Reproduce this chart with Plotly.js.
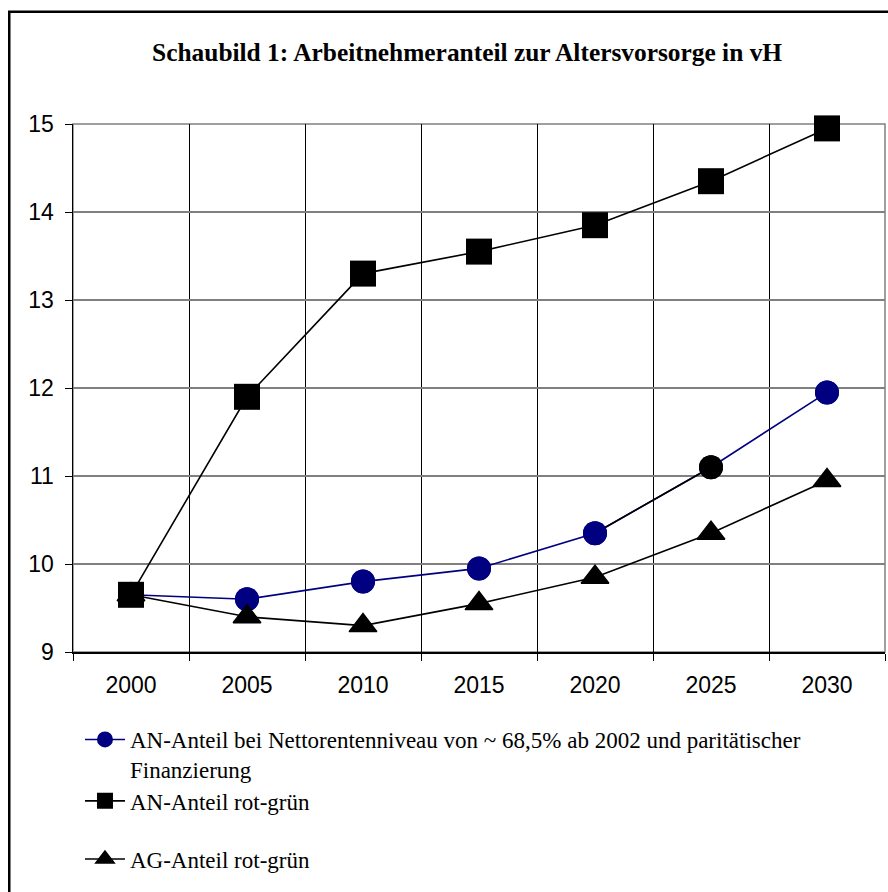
<!DOCTYPE html>
<html>
<head>
<meta charset="utf-8">
<script src="https://cdn.plot.ly/plotly-3.0.1.min.js"></script>
<style>html,body{margin:0;padding:0;background:#fff;}#chart{width:888px;height:892px;}</style>
</head>
<body>
<div id="chart"></div>
<script>
const years = ['2000', '2005', '2010', '2015', '2020', '2025', '2030'];
const anParitaet = [9.65, 9.6, 9.8, 9.95, 10.35, 11.1, 11.95];
const anRotGruen = [9.65, 11.9, 13.3, 13.55, 13.85, 14.35, 14.95];
const agRotGruen = [9.65, 9.4, 9.3, 9.55, 9.85, 10.35, 10.95];
const yTicks = [9, 10, 11, 12, 13, 14, 15];
const names = [
  'AN-Anteil bei Nettorentenniveau von ~ 68,5% ab 2002 und paritätischer<br>Finanzierung',
  'AN-Anteil rot-grün',
  'AG-Anteil rot-grün'
];
const title = 'Schaubild 1: Arbeitnehmeranteil zur Altersvorsorge in vH';

const NAVY = '#000080';
const circleColors = anParitaet.map((v, i) => (i === 5 ? '#000000' : NAVY));

const traces = [
  {x: years, y: anParitaet, mode: 'lines+markers', name: names[0], legend: 'legend',
   line: {color: NAVY, width: 1.6}, marker: {symbol: 'circle', size: 24, color: circleColors},
   hoverinfo: 'skip', cliponaxis: false},
  {x: years.slice(4, 6), y: anParitaet.slice(4, 6), mode: 'lines', showlegend: false,
   line: {color: '#000', width: 1.6}, hoverinfo: 'skip', cliponaxis: false},
  {x: years, y: anParitaet, mode: 'markers', showlegend: false,
   marker: {symbol: 'circle', size: 24, color: circleColors}, hoverinfo: 'skip', cliponaxis: false},
  {x: years, y: agRotGruen, mode: 'lines+markers', name: names[2], legend: 'legend3',
   line: {color: '#000', width: 1.6}, marker: {symbol: 'triangle-up', size: 24, color: '#000', line: {color: '#000', width: 1.5}},
   hoverinfo: 'skip', cliponaxis: false},
  {x: years, y: anRotGruen, mode: 'lines+markers', name: names[1], legend: 'legend2',
   line: {color: '#000', width: 1.6}, marker: {symbol: 'square', size: 26, color: '#000'},
   hoverinfo: 'skip', cliponaxis: false}
];

const legFont = {family: '"Liberation Serif", "Times New Roman", serif', size: 23, color: '#000'};
const legBase = {font: legFont, bgcolor: 'rgba(0,0,0,0)', borderwidth: 0, xanchor: 'left', yanchor: 'middle',
                 itemwidth: 40, valign: 'top', tracegroupgap: 0};

const layout = {
  width: 888, height: 892,
  margin: {l: 73, r: 3, t: 124, b: 240},
  paper_bgcolor: '#fff', plot_bgcolor: '#fff',
  title: {text: '<b>' + title + '</b>', x: 0.526, xanchor: 'center', y: 0.942, yanchor: 'middle',
          font: {family: '"Liberation Serif", "Times New Roman", serif', size: 25.4, color: '#000'}},
  xaxis: {type: 'category', categoryorder: 'array', categoryarray: years, range: [-0.5, 6.5],
          tickson: 'boundaries', ticks: 'outside', ticklen: 7, tickcolor: '#000', tickwidth: 1,
          showgrid: true, gridcolor: '#000', gridwidth: 1, showline: true, linecolor: '#000', linewidth: 1.5,
          tickfont: {family: '"Liberation Sans", Arial, sans-serif', size: 23, color: '#000'},
          ticklabelstandoff: 12, fixedrange: true, zeroline: false},
  yaxis: {range: [9, 15], tickvals: yTicks, ticks: 'outside', ticklen: 7, tickcolor: '#000',
          showgrid: true, gridcolor: '#808080', gridwidth: 1.5, showline: true, linecolor: '#000', linewidth: 1.5,
          tickfont: {family: '"Liberation Sans", Arial, sans-serif', size: 23, color: '#000'},
          ticklabelstandoff: 6, fixedrange: true, zeroline: false},
  showlegend: true,
  legend: Object.assign({}, legBase, {x: 0.0086, y: -0.125, yanchor: 'top'}),
  legend2: Object.assign({}, legBase, {x: 0.0086, y: -0.282}),
  legend3: Object.assign({}, legBase, {x: 0.0086, y: -0.392}),
  shapes: [
    {type: 'rect', xref: 'paper', yref: 'paper', x0: 0, x1: 1, y0: 0, y1: 1,
     line: {color: '#808080', width: 1.5}, layer: 'below'},
    {type: 'path', xref: 'paper', yref: 'paper',
     path: 'M -0.0785,-0.6 L -0.0785,1.2125 L 1.2,1.2125',
     line: {color: '#000', width: 2.5}}
  ]
};

Plotly.newPlot('chart', traces, layout, {displayModeBar: false, staticPlot: true});
</script>
</body>
</html>
